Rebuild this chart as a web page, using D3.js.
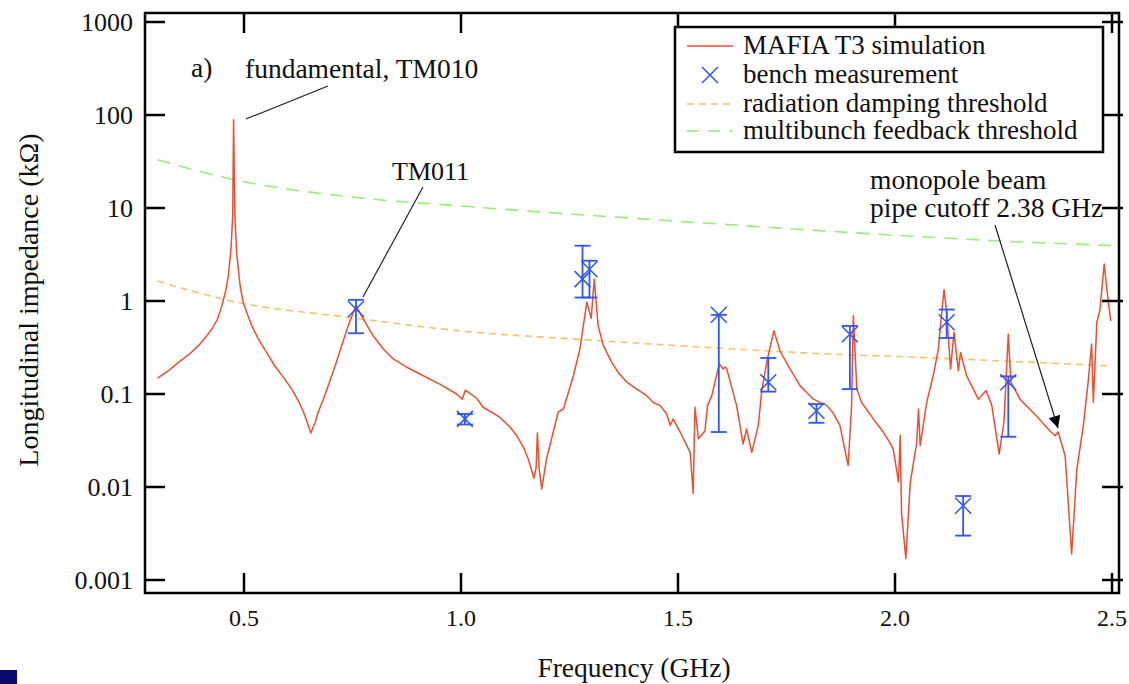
<!DOCTYPE html>
<html>
<head>
<meta charset="utf-8">
<script src="https://cdn.jsdelivr.net/npm/d3@7"></script>
<style>
  body { margin: 0; background: #fff; }
</style>
</head>
<body>
<div id="chart"></div>
<script>
// MAFIA T3 simulation (frequency GHz, impedance kOhm)
var simFreq = [0.301, 0.326, 0.349, 0.372, 0.395, 0.414, 0.426, 0.439, 0.449, 0.458, 0.464, 0.470, 0.474, 0.476, 0.479,
  0.483, 0.491, 0.498, 0.506, 0.518, 0.533, 0.552, 0.571, 0.591, 0.610, 0.625, 0.637, 0.647, 0.654, 0.664, 0.671, 0.683,
  0.694, 0.710, 0.725, 0.740, 0.752, 0.758, 0.775, 0.798, 0.821, 0.844, 0.875, 0.913, 0.952, 0.990, 1.003, 1.010, 1.020,
  1.036, 1.051, 1.090, 1.113, 1.128, 1.144, 1.155, 1.168, 1.173, 1.176, 1.180, 1.186, 1.197, 1.224, 1.236, 1.259, 1.274,
  1.283, 1.290, 1.300, 1.307, 1.316, 1.328, 1.347, 1.362, 1.382, 1.405, 1.428, 1.443, 1.459, 1.474, 1.482, 1.489, 1.505,
  1.520, 1.528, 1.535, 1.539, 1.547, 1.562, 1.568, 1.578, 1.595, 1.604, 1.608, 1.612, 1.635, 1.650, 1.658, 1.670, 1.685,
  1.693, 1.706, 1.721, 1.735, 1.758, 1.781, 1.797, 1.812, 1.843, 1.858, 1.873, 1.892, 1.900, 1.904, 1.912, 1.923, 1.950,
  1.973, 1.988, 1.996, 2.008, 2.012, 2.015, 2.025, 2.035, 2.050, 2.054, 2.058, 2.073, 2.088, 2.100, 2.107, 2.113, 2.119,
  2.128, 2.136, 2.146, 2.151, 2.165, 2.192, 2.210, 2.223, 2.240, 2.251, 2.261, 2.267, 2.288, 2.305, 2.326, 2.342, 2.357,
  2.369, 2.376, 2.392, 2.407, 2.419, 2.434, 2.445, 2.453, 2.457, 2.465, 2.472, 2.482, 2.488, 2.497];
var simImp = [0.148, 0.178, 0.219, 0.263, 0.331, 0.42, 0.50, 0.64, 0.89, 1.29, 1.87, 3.6, 8.3, 89, 8.3,
  3.3, 1.46, 0.97, 0.76, 0.54, 0.39, 0.28, 0.20, 0.151, 0.113, 0.085, 0.064, 0.0476, 0.038, 0.0496, 0.064, 0.088,
  0.123, 0.20, 0.331, 0.54, 0.76, 0.89, 0.64, 0.42, 0.305, 0.238, 0.194, 0.157, 0.127, 0.100, 0.088, 0.110, 0.102,
  0.090, 0.072, 0.056, 0.044, 0.036, 0.0267, 0.020, 0.0124, 0.016, 0.038, 0.016, 0.0095, 0.020, 0.064, 0.069, 0.157, 0.305,
  0.59, 0.97, 0.65, 1.72, 0.54, 0.331, 0.22, 0.171, 0.134, 0.113, 0.096, 0.081, 0.075, 0.061, 0.046, 0.054, 0.039,
  0.028, 0.0236, 0.0085, 0.072, 0.033, 0.040, 0.075, 0.096, 0.21, 0.186, 0.195, 0.189, 0.075, 0.029, 0.042, 0.0236, 0.046,
  0.109, 0.238, 0.48, 0.29, 0.186, 0.123, 0.103, 0.088, 0.075, 0.062, 0.046, 0.017, 0.075, 0.70, 0.113, 0.081, 0.054,
  0.039, 0.030, 0.0256, 0.0113, 0.036, 0.0053, 0.0017, 0.0110, 0.030, 0.069, 0.028, 0.081, 0.157, 0.305, 0.70, 1.32, 0.76,
  0.186, 0.46, 0.178, 0.28, 0.157, 0.088, 0.109, 0.075, 0.0227, 0.050, 0.44, 0.134, 0.088, 0.073, 0.058, 0.048, 0.040,
  0.0356, 0.039, 0.0217, 0.0019, 0.0156, 0.046, 0.134, 0.345, 0.081, 0.59, 0.79, 2.5, 1.35, 0.61];

// bench measurement with error bars
var measFreq = [0.758, 1.009, 1.280, 1.296, 1.594, 1.708, 1.819, 1.896, 2.119, 2.157, 2.261];
var measImp = [0.82, 0.054, 1.72, 2.2, 0.71, 0.134, 0.066, 0.44, 0.59, 0.0063, 0.134];
var measHi = [1.03, 0.061, 3.93, 2.71, 0.71, 0.244, 0.078, 0.54, 0.81, 0.0080, 0.155];
var measLo = [0.45, 0.047, 1.09, 1.09, 0.039, 0.106, 0.049, 0.113, 0.40, 0.0030, 0.0347];

// thresholds
var dampFreq = [0.301, 0.47, 0.75, 1.0, 1.3, 1.6, 1.8, 2.1, 2.5];
var dampImp = [1.64, 1.0, 0.66, 0.476, 0.38, 0.31, 0.276, 0.243, 0.20];
var feedFreq = [0.301, 0.47, 0.75, 1.0, 1.5, 2.0, 2.23, 2.5];
var feedImp = [33.0, 20.5, 13.1, 10.5, 7.2, 5.1, 4.45, 3.95];

var xTicks = [0.5, 1.0, 1.5, 2.0, 2.5];
var yTicks = [1000, 100, 10, 1, 0.1, 0.01, 0.001];
var yTickLabels = ["1000", "100", "10", "1", "0.1", "0.01", "0.001"];
var legendLabels = ["MAFIA T3 simulation", "bench measurement", "radiation damping threshold", "multibunch feedback threshold"];

var W = 1129, H = 684;
var margin = { top: 13, right: 10, bottom: 91, left: 145 },
  width = 1119 - margin.left,
  height = 593 - margin.top;

var red = "#ea4f33", blue = "#2f55f4", yellow = "#f6c36a", green = "#98ec78";
var serif = "'Liberation Serif', 'DejaVu Serif', 'Times New Roman', serif";

var root = d3.select("#chart").append("svg")
  .attr("width", W).attr("height", H)
  .attr("font-family", serif)
  .style("font-family", serif);

root.append("defs").append("marker")
  .attr("id", "arrow")
  .attr("viewBox", "0 0 10 10")
  .attr("refX", 10).attr("refY", 5)
  .attr("markerWidth", 17).attr("markerHeight", 12)
  .attr("markerUnits", "userSpaceOnUse")
  .attr("orient", "auto")
  .append("path").attr("d", "M0,0L10,5L0,10Z").attr("fill", "#000");

var svg = root.append("g").attr("transform", "translate(" + margin.left + "," + margin.top + ")");

var x = d3.scaleLinear().domain([0.2719, 2.5161]).range([0, width]);
var y = d3.scaleLog().domain([Math.pow(10, -3.1398), Math.pow(10, 3.0968)]).range([height, 0]);

svg.append("clipPath").attr("id", "clip").append("rect").attr("width", width).attr("height", height);
var plot = svg.append("g").attr("clip-path", "url(#clip)");

var thr = d3.line().x(function (d) { return x(d[0]); }).y(function (d) { return y(d[1]); }).curve(d3.curveMonotoneX);

// thresholds
plot.append("path")
  .datum(d3.zip(feedFreq, feedImp))
  .attr("fill", "none").attr("stroke", green).attr("stroke-width", 1.6)
  .attr("stroke-dasharray", "13,9")
  .attr("d", thr);
plot.append("path")
  .datum(d3.zip(dampFreq, dampImp))
  .attr("fill", "none").attr("stroke", yellow).attr("stroke-width", 1.6)
  .attr("stroke-dasharray", "7,5")
  .attr("d", thr);

// simulation
plot.append("path")
  .datum(d3.zip(simFreq, simImp))
  .attr("fill", "none").attr("stroke", red).attr("stroke-width", 1.5)
  .attr("stroke-linejoin", "round")
  .attr("d", d3.line().x(function (d) { return x(d[0]); }).y(function (d) { return y(d[1]); }));

// measurements
var meas = measFreq.map(function (f, i) { return { f: f, z: measImp[i], hi: measHi[i], lo: measLo[i] }; });
var m = plot.selectAll(".meas").data(meas).enter().append("g").attr("class", "meas")
  .attr("stroke", blue).attr("stroke-width", 1.8).attr("fill", "none");
m.append("line")
  .attr("x1", function (d) { return x(d.f); }).attr("x2", function (d) { return x(d.f); })
  .attr("y1", function (d) { return y(d.hi); }).attr("y2", function (d) { return y(d.lo); });
m.append("line")
  .attr("x1", function (d) { return x(d.f) - 8; }).attr("x2", function (d) { return x(d.f) + 8; })
  .attr("y1", function (d) { return y(d.hi); }).attr("y2", function (d) { return y(d.hi); });
m.append("line")
  .attr("x1", function (d) { return x(d.f) - 8; }).attr("x2", function (d) { return x(d.f) + 8; })
  .attr("y1", function (d) { return y(d.lo); }).attr("y2", function (d) { return y(d.lo); });
m.append("path")
  .attr("stroke-width", 1.5)
  .attr("d", function (d) {
    var cx = x(d.f), cy = y(d.z), s = 8;
    return "M" + (cx - s) + "," + (cy - s) + "L" + (cx + s) + "," + (cy + s) +
      "M" + (cx - s) + "," + (cy + s) + "L" + (cx + s) + "," + (cy - s);
  });

// frame and ticks (inside, mirrored)
svg.append("rect").attr("width", width).attr("height", height)
  .attr("fill", "none").attr("stroke", "#000").attr("stroke-width", 2.5);

var tk = svg.append("g").attr("stroke", "#000").attr("stroke-width", 2.5);
xTicks.forEach(function (t) {
  tk.append("line").attr("x1", x(t)).attr("x2", x(t)).attr("y1", height).attr("y2", height - 20);
  tk.append("line").attr("x1", x(t)).attr("x2", x(t)).attr("y1", 0).attr("y2", 20);
});
yTicks.forEach(function (t) {
  tk.append("line").attr("x1", 0).attr("x2", 20).attr("y1", y(t)).attr("y2", y(t));
  tk.append("line").attr("x1", width + 4).attr("x2", width - 17).attr("y1", y(t)).attr("y2", y(t));
});

svg.append("g").selectAll("text").data(xTicks).enter().append("text")
  .attr("x", function (d) { return x(d); }).attr("y", height + 33)
  .attr("text-anchor", "middle").style("font-size", "24px").attr("fill", "#111")
  .text(function (d) { return d3.format(".1f")(d); });

svg.append("g").selectAll("text").data(yTicks).enter().append("text")
  .attr("x", -12).attr("y", function (d) { return y(d); }).attr("dy", "0.35em")
  .attr("text-anchor", "end").style("font-size", "26px").attr("fill", "#111")
  .text(function (d, i) { return yTickLabels[i]; });

// axis titles
svg.append("text")
  .attr("x", 634 - margin.left).attr("y", 677 - margin.top)
  .attr("text-anchor", "middle").style("font-size", "27.5px").attr("fill", "#111")
  .text("Frequency (GHz)");
svg.append("text")
  .attr("transform", "translate(" + (38 - margin.left) + "," + (300 - margin.top) + ") rotate(-90)")
  .attr("text-anchor", "middle").style("font-size", "28px").attr("fill", "#111")
  .text("Longitudinal impedance (k\u03A9)");

// annotations (page coordinates)
var ann = root.append("g").style("font-size", "27.5px").attr("fill", "#111");
ann.append("text").attr("x", 191).attr("y", 77).text("a)");
ann.append("text").attr("x", 245).attr("y", 78).text("fundamental, TM010");
ann.append("text").attr("x", 392).attr("y", 180).style("font-size", "26px").text("TM011");
ann.append("text").attr("x", 870).attr("y", 189).text("monopole beam");
ann.append("text").attr("x", 870).attr("y", 217).text("pipe cutoff 2.38 GHz");
ann.append("line").attr("x1", 328).attr("y1", 86).attr("x2", 246).attr("y2", 119)
  .attr("stroke", "#222").attr("stroke-width", 1.2);
ann.append("line").attr("x1", 423).attr("y1", 187).attr("x2", 363).attr("y2", 297)
  .attr("stroke", "#222").attr("stroke-width", 1.2);
ann.append("line").attr("x1", 995).attr("y1", 225).attr("x2", 1058).attr("y2", 428)
  .attr("stroke", "#222").attr("stroke-width", 1.2).attr("marker-end", "url(#arrow)");

// legend
var lg = root.append("g").attr("transform", "translate(675,27)");
lg.append("rect").attr("width", 428).attr("height", 125)
  .attr("fill", "#fff").attr("stroke", "#000").attr("stroke-width", 2.5);
var rowY = [19, 48, 77, 104];
lg.append("line").attr("x1", 12).attr("x2", 58).attr("y1", rowY[0]).attr("y2", rowY[0])
  .attr("stroke", red).attr("stroke-width", 1.5);
lg.append("path")
  .attr("d", "M27," + (rowY[1] - 8) + "L43," + (rowY[1] + 8) + "M27," + (rowY[1] + 8) + "L43," + (rowY[1] - 8))
  .attr("stroke", blue).attr("stroke-width", 1.5);
lg.append("line").attr("x1", 12).attr("x2", 58).attr("y1", rowY[2]).attr("y2", rowY[2])
  .attr("stroke", yellow).attr("stroke-width", 1.6).attr("stroke-dasharray", "7,5");
lg.append("line").attr("x1", 12).attr("x2", 58).attr("y1", rowY[3]).attr("y2", rowY[3])
  .attr("stroke", green).attr("stroke-width", 1.6).attr("stroke-dasharray", "12,9");
lg.selectAll(".lt").data(legendLabels).enter().append("text")
  .attr("x", 68).attr("y", function (d, i) { return rowY[i] + 8; })
  .style("font-size", "27px").attr("fill", "#111")
  .text(function (d) { return d; });

// navy corner mark
root.append("rect").attr("x", 0).attr("y", 670).attr("width", 17).attr("height", 14).attr("fill", "#0b0b6e");
</script>
</body>
</html>
